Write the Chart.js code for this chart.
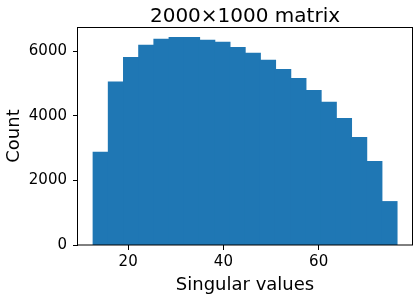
<!DOCTYPE html>
<html>
<head>
<meta charset="utf-8">
<script src="https://cdn.jsdelivr.net/npm/chart.js@4/dist/chart.umd.min.js"></script>
<style>
  html, body { margin:0; padding:0; background:#fff; }
  #wrap { width:418px; height:296px; }
</style>
</head>
<body>
<div id="wrap"><canvas id="c" width="418" height="296"></canvas></div>
<script>
// histogram of singular values, 20 bins
const binEdges = [12.66, 15.85, 19.04, 22.23, 25.42, 28.61, 31.80, 34.99, 38.18, 41.37, 44.56,
                  47.75, 50.94, 54.13, 57.32, 60.51, 63.70, 66.89, 70.08, 73.27, 76.43];
const counts = [2870, 5040, 5800, 6180, 6360, 6420, 6420, 6330, 6270, 6110,
                5930, 5710, 5430, 5150, 4780, 4410, 3910, 3320, 2580, 1340];
const xTicks = [20, 40, 60];
const yTicks = [0, 2000, 4000, 6000];
const titleText = '2000×1000 matrix';

const FONT = '"DejaVu Sans", sans-serif';
Chart.defaults.font.family = FONT;
Chart.defaults.color = '#000';

// matplotlib style full box around the axes + title centred over the axes
const frame = {
  id: 'frame',
  afterDraw(chart) {
    const {ctx, chartArea: a} = chart;
    ctx.save();
    ctx.strokeStyle = '#000'; ctx.lineWidth = 1;
    ctx.strokeRect(Math.round(a.left) - 0.5, Math.round(a.top) + 0.5,
                   Math.round(a.right - a.left) + 1, Math.round(a.bottom - a.top) - 0.5);
    ctx.font = '20px ' + FONT;
    ctx.fillStyle = '#000';
    ctx.textAlign = 'center'; ctx.textBaseline = 'alphabetic';
    ctx.fillText(titleText, (a.left + a.right) / 2, 22);
    ctx.restore();
  }
};

const pts = counts.map((y, i) => ({ x: (binEdges[i] + binEdges[i + 1]) / 2, y }));

new Chart(document.getElementById('c'), {
  type: 'bar',
  data: { datasets: [{ data: pts, backgroundColor: '#1f77b4', borderWidth: 0, inflateAmount: 0.6,
    barPercentage: 1, categoryPercentage: 1 }] },
  options: {
    responsive: false, animation: false,
    layout: { padding: { left: 0, right: 6, top: 27, bottom: 0 } },
    plugins: { legend: { display: false }, tooltip: { enabled: false }, title: { display: false } },
    scales: {
      x: {
        type: 'linear', offset: false, min: 9.47, max: 79.6,
        afterBuildTicks: s => { s.ticks = xTicks.map(v => ({ value: v })); },
        afterFit: s => { s.height = 51; },
        grid: { display: true, offset: false, drawOnChartArea: false, drawTicks: true, tickLength: 5, color: '#000' },
        border: { display: false },
        ticks: { font: { size: 15 }, padding: 3, maxRotation: 0, color: '#000', callback: v => String(v) },
        title: { display: true, text: 'Singular values', font: { size: 18 }, color: '#000',
          padding: { top: 5, bottom: 0 } }
      },
      y: {
        min: 0, max: 6745,
        afterBuildTicks: s => { s.ticks = yTicks.map(v => ({ value: v })); },
        afterFit: s => { s.width = 78; },
        grid: { display: true, drawOnChartArea: false, drawTicks: true, tickLength: 5, color: '#000' },
        border: { display: false },
        ticks: { font: { size: 15 }, padding: 6, color: '#000', callback: v => String(v) },
        title: { display: true, text: 'Count', font: { size: 18 }, color: '#000',
          padding: { top: 4, bottom: 0 } }
      }
    }
  },
  plugins: [frame]
});
</script>
</body>
</html>
